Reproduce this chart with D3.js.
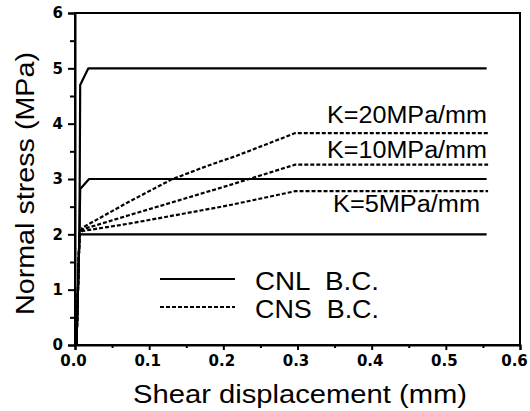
<!DOCTYPE html>
<html>
<head>
<meta charset="utf-8">
<script src="https://cdn.jsdelivr.net/npm/d3@7"></script>
<style>
  body { margin: 0; background: #fff; }
  svg { display: block; }
  .tick text { font-family: 'DejaVu Sans', sans-serif; font-weight: bold; font-size: 15px; }
</style>
</head>
<body>
<svg id="chart"></svg>
<script>
// shear displacement (mm), normal stress (MPa)
const cnl2 = [[0.002,0],[0.006,2.0],[0.555,2.0]];
const cnl3 = [[0.002,0],[0.006,2.0],[0.007,2.82],[0.019,3.0],[0.555,3.0]];
const cnl5 = [[0.002,0],[0.006,2.0],[0.007,4.7],[0.018,5.0],[0.555,5.0]];
const cns5 = [[0.002,0],[0.006,2.0],[0.010,2.06],[0.0715,2.19],[0.206,2.52],[0.297,2.78],[0.557,2.78]];
const cns10 = [[0.002,0],[0.006,2.0],[0.010,2.09],[0.0715,2.34],[0.139,2.61],[0.206,2.88],[0.297,3.26],[0.557,3.26]];
const cns20 = [[0.002,0],[0.006,2.0],[0.010,2.12],[0.0715,2.58],[0.13,2.99],[0.179,3.24],[0.218,3.42],[0.297,3.83],[0.557,3.83]];

const xTicks = [0, 0.1, 0.2, 0.3, 0.4, 0.5, 0.6];
const xMinor = [0.05, 0.15, 0.25, 0.35, 0.45, 0.55];
const yTicks = [0, 1, 2, 3, 4, 5, 6];
const yMinor = [0.5, 1.5, 2.5, 3.5, 4.5, 5.5];

const kLabels = ["K=20MPa/mm", "K=10MPa/mm", "K=5MPa/mm"];
const legendLabels = ["CNL  B.C.", "CNS  B.C."];

const width = 530, height = 411;
const margin = {top: 13, right: 10, bottom: 66, left: 75};

const svg = d3.select("#chart")
    .attr("width", width)
    .attr("height", height);

const x = d3.scaleLinear().domain([0, 0.6]).range([margin.left, width - margin.right]);
const y = d3.scaleLinear().domain([0, 6]).range([height - margin.bottom, margin.top]);

const font = "'Liberation Sans', Arial, sans-serif";

// frame
svg.append("rect")
    .attr("x", x(0)).attr("y", y(6))
    .attr("width", x(0.6) - x(0)).attr("height", y(0) - y(6))
    .attr("fill", "none").attr("stroke", "#000").attr("stroke-width", 2);

// x axis
const xAxis = svg.append("g")
    .attr("transform", `translate(0,${y(0)})`)
    .call(d3.axisBottom(x).tickValues(xTicks).tickSize(5).tickFormat(d3.format(".1f")));
svg.append("g")
    .attr("transform", `translate(0,${y(0)})`)
    .call(d3.axisBottom(x).tickValues(xMinor).tickSize(3).tickFormat(""))
    .call(g => g.select(".domain").remove());

// y axis
const yAxis = svg.append("g")
    .attr("transform", `translate(${x(0)},0)`)
    .call(d3.axisLeft(y).tickValues(yTicks).tickSize(7).tickPadding(5).tickFormat(d3.format("d")));
svg.append("g")
    .attr("transform", `translate(${x(0)},0)`)
    .call(d3.axisLeft(y).tickValues(yMinor).tickSize(5).tickFormat(""))
    .call(g => g.select(".domain").remove());

svg.selectAll(".domain").attr("stroke-width", 2);
svg.selectAll(".tick line").attr("stroke-width", 2);
svg.selectAll(".tick text").attr("fill", "#000");
xAxis.selectAll(".tick text")
    .attr("dx", d => d === 0.6 ? -6 : -2)
    .attr("dy", "0.85em");

// curves
const line = d3.line().x(d => x(d[0])).y(d => y(d[1]));

[cnl2, cnl3, cnl5].forEach(s => {
    svg.append("path").datum(s)
        .attr("d", line)
        .attr("fill", "none").attr("stroke", "#000")
        .attr("stroke-width", 2.2).attr("stroke-linejoin", "round");
});
[cns5, cns10, cns20].forEach(s => {
    svg.append("path").datum(s)
        .attr("d", line)
        .attr("fill", "none").attr("stroke", "#000")
        .attr("stroke-width", 2.2).attr("stroke-dasharray", "4,2");
});

// K labels
const kPos = [{x: 327, y: 123, len: 160}, {x: 327, y: 158, len: 160}, {x: 333, y: 212, len: 147}];
kLabels.forEach((t, i) => {
    svg.append("text")
        .attr("x", kPos[i].x).attr("y", kPos[i].y)
        .attr("font-family", font).attr("font-size", 23)
        .attr("textLength", kPos[i].len).attr("lengthAdjust", "spacingAndGlyphs")
        .text(t);
});

// legend
const legendY = [279, 307];
legendLabels.forEach((t, i) => {
    svg.append("line")
        .attr("x1", 160).attr("x2", 235)
        .attr("y1", legendY[i]).attr("y2", legendY[i])
        .attr("stroke", "#000").attr("stroke-width", 2)
        .attr("stroke-dasharray", i === 1 ? "4,2" : null);
    svg.append("text")
        .attr("x", 255).attr("y", legendY[i] + 11)
        .attr("font-family", font).attr("font-size", 25)
        .style("white-space", "pre")
        .attr("textLength", 124).attr("lengthAdjust", "spacingAndGlyphs")
        .text(t);
});

// axis titles
svg.append("text")
    .attr("x", 300).attr("y", 403)
    .attr("text-anchor", "middle")
    .attr("font-family", font).attr("font-size", 25)
    .attr("textLength", 334).attr("lengthAdjust", "spacingAndGlyphs")
    .text("Shear displacement (mm)");

svg.append("text")
    .attr("transform", "rotate(-90)")
    .attr("x", -183.5).attr("y", 34)
    .attr("text-anchor", "middle")
    .attr("font-family", font).attr("font-size", 25)
    .attr("textLength", 263).attr("lengthAdjust", "spacingAndGlyphs")
    .text("Normal stress (MPa)");
</script>
</body>
</html>
